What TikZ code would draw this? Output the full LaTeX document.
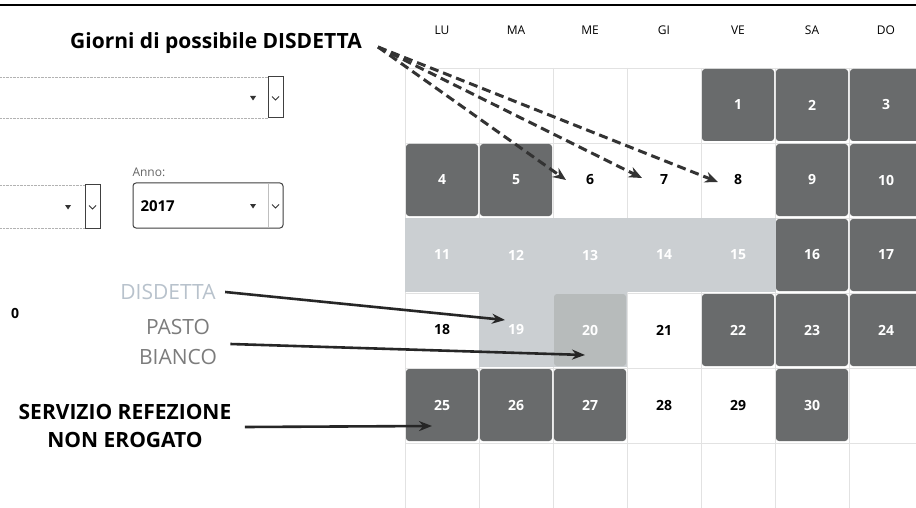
\documentclass[tikz,border=0pt]{standalone}
\usepackage{fontspec}
\setmainfont{Open Sans}
\usetikzlibrary{arrows.meta}

\definecolor{tiledark}{HTML}{696B6C}
\definecolor{tilelight}{HTML}{CBCFD2}
\definecolor{tilepasto}{HTML}{B7BBBB}
\definecolor{gridgray}{HTML}{E2E2E2}
\definecolor{disdettagray}{HTML}{B8C2CC}
\definecolor{pastogray}{HTML}{7C7C7C}

\begin{document}
\begin{tikzpicture}[x=1pt,y=-1pt,
    daynum/.style={font=\bfseries\fontsize{14}{14}\selectfont, minimum width=72pt, minimum height=72pt, inner sep=0pt},
    darktile/.style={daynum, fill=tiledark, rounded corners=3pt, text=white},
    whitetile/.style={daynum, text=black},
    lighttile/.style={daynum, text=white},
    pastotile/.style={daynum, fill=tilepasto, rounded corners=3pt, text=white},
    dayhead/.style={font=\fontsize{12}{12}\selectfont},
    callout/.style={font=\bfseries\fontsize{21}{28}\selectfont, align=center},
    pointer/.style={line width=2.6pt, draw=black!85, -{Stealth[length=13pt,width=10pt]}},
    dashpointer/.style={line width=3pt, draw=black!80, dash pattern=on 9pt off 5pt, -{Stealth[length=13pt,width=11pt]}},
    combo/.style={draw=black!75, line width=1pt}]

\useasboundingbox (0,0) rectangle (916,508);
\fill [white] (0,0) rectangle (916,508);
\draw [line width=1.6pt] (0,5) -- (916,5);

% calendar grid
\foreach \i in {0,...,7}
    \draw [gridgray] (405+74*\i, 68) -- (405+74*\i, 508);
\foreach \j in {0,...,5}
    \draw [gridgray] (405, 68+75*\j) -- (916, 68+75*\j);

\foreach \n [count=\i from 0] in {LU,MA,ME,GI,VE,SA,DO}
    \node [dayhead] (h\n) at (442+74*\i, 30) {\n};

% tile centres
\foreach \d in {1,...,30} {
    \pgfmathtruncatemacro\idx{\d+3}
    \pgfmathtruncatemacro\col{mod(\idx,7)}
    \pgfmathtruncatemacro\row{div(\idx,7)}
    \coordinate (p\d) at (442+74*\col, 105+75*\row);
}

% disdetta band
\fill [tilelight] (405,218) rectangle (776,292);
\fill [tilelight] (479,292) rectangle (627,367);

\foreach \d in {1,2,3,4,5,9,10,16,17,22,23,24,25,26,27,30}
    \node [darktile] (d\d) at (p\d) {\d};

\foreach \d in {6,7,8,18,21,28,29}
    \node [whitetile] (d\d) at (p\d) {\d};

\foreach \d in {11,12,13,14,15,19}
    \node [lighttile] (d\d) at (p\d) {\d};

\foreach \d in {20}
    \node [pastotile] (d\d) at (p\d) {\d};

% form fields
\draw [gray!60, densely dotted] (0,77) -- (268,77) (0,118) -- (268,118);
\draw [combo] (268,77) rectangle (283,118);
\draw [gray!60, densely dotted] (0,185) -- (85,185) (0,228) -- (85,228);
\draw [combo] (85,185) rectangle (100,228);
\draw [combo, rounded corners=3pt] (133,183) rectangle (283,228);
\draw [gray!50] (268,184) -- (268,227);

\foreach \x/\y in {253/98, 68/207, 253/206}
    \fill [black!80] (\x-3,\y-2) -- (\x+3,\y-2) -- (\x,\y+2.5) -- cycle;
\foreach \x/\y in {275.5/98, 92.5/207, 275.5/206}
    \draw [black!80, line width=1pt] (\x-3.5,\y-1.5) -- (\x,\y+2) -- (\x+3.5,\y-1.5);

\node [anchor=west, text=black!60, font=\fontsize{12}{12}\selectfont] (annolbl) at (129,172) {Anno:};
\node [anchor=west, font=\bfseries\fontsize{15}{15}\selectfont] (anno) at (137,206) {2017};
\node [font=\bfseries\fontsize{14}{14}\selectfont] (zero) at (15,313) {0};

% callouts
\node [callout] (possibili) at (216,43) {Giorni di possibile DISDETTA};
\node [callout, font=\fontsize{21}{21}\selectfont, text=disdettagray] (disdetta) at (168,292) {DISDETTA};
\node [callout, font=\fontsize{21}{30}\selectfont, text=pastogray] (pasto) at (178,342) {PASTO\\BIANCO};
\node [callout, font=\bfseries\fontsize{21}{28}\selectfont] (nonerogato) at (125,426) {SERVIZIO REFEZIONE\\NON EROGATO};

\coordinate (fan) at (378,47);
\draw [dashpointer] (fan) -- ([xshift=-24pt]d6.center);
\draw [dashpointer] (fan) -- ([xshift=-22pt, yshift=2pt]d7.center);
\draw [dashpointer] (fan) -- ([xshift=-20pt, yshift=-2pt]d8.center);

\draw [pointer] ([xshift=6pt]disdetta.east) -- ([xshift=-11pt, yshift=10pt]d19.center);
\draw [pointer] ([xshift=10pt, yshift=-2pt]pasto.east) -- ([xshift=-5pt, yshift=-25pt]d20.center);
\draw [pointer] ([xshift=10pt, yshift=-1pt]nonerogato.east) -- ([xshift=-10pt, yshift=-21pt]d25.center);

\end{tikzpicture}
\end{document}
